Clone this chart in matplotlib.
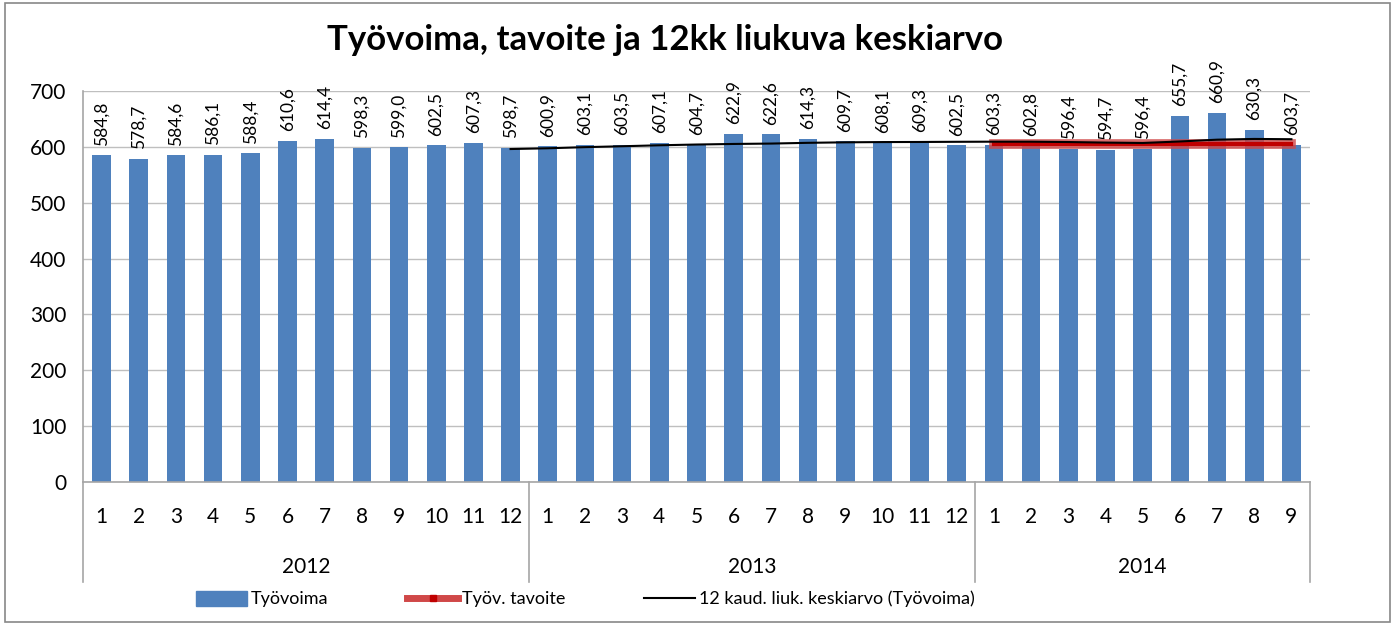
import matplotlib
matplotlib.use("Agg")
import matplotlib.pyplot as plt
from matplotlib.lines import Line2D
from matplotlib.patches import Patch, Rectangle
import matplotlib.transforms as mtransforms
import pandas as pd

plt.rcParams['font.family'] = ['Lato', 'DejaVu Sans']

years = ["2012", "2013", "2014"]
months_per_year = [12, 12, 9]
month_labels = [str(m) for m in range(1, 13)] + [str(m) for m in range(1, 13)] + [str(m) for m in range(1, 10)]
tyovoima = [584.8, 578.7, 584.6, 586.1, 588.4, 610.6, 614.4, 598.3, 599.0, 602.5, 607.3, 598.7,
            600.9, 603.1, 603.5, 607.1, 604.7, 622.9, 622.6, 614.3, 609.7, 608.1, 609.3, 602.5,
            603.3, 602.8, 596.4, 594.7, 596.4, 655.7, 660.9, 630.3, 603.7]
tavoite_2014 = [605.0, 605.0, 605.0, 605.0, 605.0, 605.0, 605.0, 605.0, 605.0]

BLUE = '#4F81BD'
RED = '#D04848'
DARKRED = '#C00000'

fig = plt.figure(figsize=(13.95, 6.25), dpi=100)
ax = fig.add_axes([83/1395, 1-482/625, (1310-83)/1395, 391/625])

x = list(range(len(tyovoima)))
ax.bar(x, tyovoima, width=0.5, color=BLUE, zorder=2)

for xi, v in zip(x, tyovoima):
    ax.annotate(f"{v:.1f}".replace('.', ','), (xi, v), xytext=(0, 7), textcoords='offset points',
                rotation=90, ha='center', va='bottom', fontsize=12.5, annotation_clip=False)

# target line (2014)
start = sum(months_per_year[:2])
tx = x[start:start + len(tavoite_2014)]
ax.plot(tx, tavoite_2014, color=RED, lw=7, alpha=0.8, solid_capstyle='projecting', zorder=3)
ax.plot(tx, tavoite_2014, color=DARKRED, lw=3, solid_capstyle='projecting', zorder=3)

# 12-month moving average
ma = pd.Series(tyovoima).rolling(12).mean()
ax.plot(x, ma, color='black', lw=1.5, zorder=4)

ax.set_xlim(-0.5, len(tyovoima) - 0.5)
ax.set_ylim(0, 700)
ax.set_yticks(range(0, 701, 100))
ax.tick_params(axis='y', length=0, pad=12, labelsize=15)
ax.set_xticks([])
ax.grid(axis='y', color='#BFBFBF', lw=1, zorder=0)
ax.set_axisbelow(True)
for s in ['top', 'right']:
    ax.spines[s].set_visible(False)
for s in ['left', 'bottom']:
    ax.spines[s].set_color('#A6A6A6')
    ax.spines[s].set_linewidth(1.2)

trans = mtransforms.blended_transform_factory(ax.transData, ax.transAxes)
for xi, lab in zip(x, month_labels):
    ax.text(xi, -0.09, lab, transform=trans, ha='center', va='center', fontsize=15)

pos = -0.5
seps = [pos]
for yr, n in zip(years, months_per_year):
    ax.text(pos + n / 2, -0.218, yr, transform=trans, ha='center', va='center', fontsize=15)
    pos += n
    seps.append(pos)
for s in seps:
    ax.plot([s, s], [0, -0.255], transform=trans, color='#A6A6A6', lw=1.2, clip_on=False)

handles = [Patch(color=BLUE),
           Line2D([0], [0], color=RED, lw=5, marker='s', markersize=4, markerfacecolor=DARKRED,
                  markeredgecolor=DARKRED),
           Line2D([0], [0], color='black', lw=1.5)]
labels = ['Työvoima', 'Työv. tavoite', '12 kaud. liuk. keskiarvo (Työvoima)']
fig.legend(handles, labels, loc='center left', bbox_to_anchor=(180/1395, 1-599/625), ncol=3,
           frameon=False, fontsize=13, handlelength=2.8, handleheight=0.9, columnspacing=4.4,
           handletextpad=0.2)

fig.text(665/1395, 1-40/625, 'Työvoima, tavoite ja 12kk liukuva keskiarvo', ha='center', va='center',
         fontsize=25, fontweight='bold')

fig.patches.append(Rectangle((5/1395, 3/625), 1385/1395, 619/625, transform=fig.transFigure,
                             fill=False, edgecolor='#888888', lw=1.2))

fig.savefig('out.png', dpi=100)
